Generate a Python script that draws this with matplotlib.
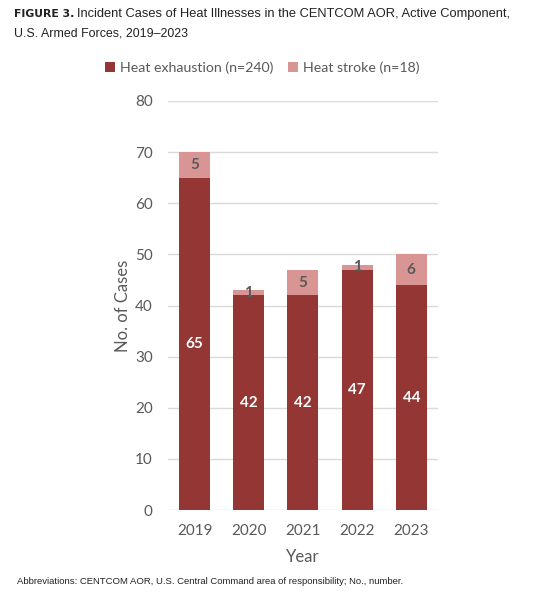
import numpy as np
import matplotlib.pyplot as plt

years = ['2019', '2020', '2021', '2022', '2023']
exhaustion = [65, 42, 42, 47, 44]
stroke = [5, 1, 5, 1, 6]

dark = '#943634'
light = '#d99594'
grey = '#595959'

plt.rcParams['font.family'] = ['Lato', 'DejaVu Sans']

fig = plt.figure(figsize=(5.5, 6.08), dpi=100)
ax = fig.add_axes([0.3055, 0.161, 0.4905, 0.673])

x = np.arange(len(years))
b1 = ax.bar(x, exhaustion, width=0.57, color=dark, label='Heat exhaustion (n=240)', zorder=3)
b2 = ax.bar(x, stroke, width=0.57, bottom=exhaustion, color=light,
            label='Heat stroke (n=18)', zorder=3)

for i in range(len(years)):
    ax.text(x[i], exhaustion[i] / 2, str(exhaustion[i]), ha='center', va='center',
            color='white', fontsize=11, fontweight='bold', zorder=4)
    ax.text(x[i], exhaustion[i] + stroke[i] / 2, str(stroke[i]), ha='center', va='center',
            color=grey, fontsize=11, fontweight='bold', zorder=4)

ax.set_xlim(-0.49, 4.49)
ax.set_ylim(0, 80)
ax.set_yticks(range(0, 81, 10))
ax.set_xticks(x)
ax.set_xticklabels(years)
ax.grid(axis='y', color='#d9d9d9', linewidth=1, zorder=0)
for s in ax.spines.values():
    s.set_visible(False)
ax.tick_params(length=0, labelsize=11, labelcolor=grey, pad=10)
ax.tick_params(axis='y', pad=11)
ax.set_ylabel('No. of Cases', fontsize=12, color=grey, labelpad=3)
ax.set_xlabel('Year', fontsize=12, color=grey, labelpad=8)

fig.legend(handles=[b1, b2], loc='center', bbox_to_anchor=(0.477, 0.888), ncol=2,
           frameon=False, fontsize=10.2, labelcolor=grey, handlelength=0.7,
           handleheight=0.7, handletextpad=0.4, columnspacing=1.0)

fig.text(0.026, 0.977, 'FIGURE 3.', fontsize=7.8, fontweight='bold', family='DejaVu Sans',
         va='center', color='#222222')
fig.text(0.14, 0.977, 'Incident Cases of Heat Illnesses in the CENTCOM AOR, Active Component,',
         fontsize=9.3, family='Liberation Sans', va='center', color='#222222')
fig.text(0.026, 0.945, 'U.S. Armed Forces, 2019\u20132023', fontsize=8.9,
         family='Liberation Sans', va='center', color='#222222')
fig.text(0.031, 0.044, 'Abbreviations: CENTCOM AOR, U.S. Central Command area of responsibility; No., number.',
         fontsize=6.8, family='Liberation Sans', va='center', color='#222222')

fig.savefig('out.png', dpi=100)
